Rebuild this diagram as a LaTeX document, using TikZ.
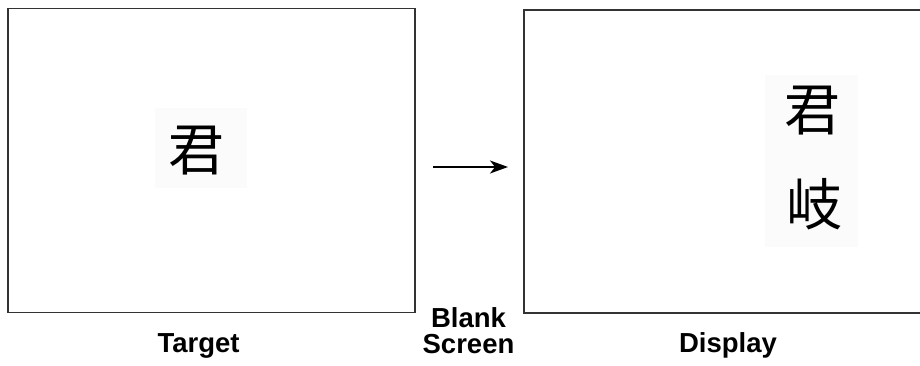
\documentclass[tikz,border=0pt]{standalone}
\usepackage{fontspec}
\setmainfont{Liberation Sans}
\newfontfamily\cjk{Noto Sans CJK JP}
\usetikzlibrary{arrows.meta}
\begin{document}
\begin{tikzpicture}[x=1pt,y=-1pt,
  frame/.style={draw=black!80,line width=1.6pt},
  glyph/.style={font=\cjk\fontsize{56}{60}\selectfont,inner sep=0pt,text=black},
  glyphbg/.style={fill=black!1.5,draw=none},
  label/.style={font=\bfseries\fontsize{27.5}{26}\selectfont,inner sep=0pt,anchor=base,align=center},
  arrowline/.style={line width=1.4pt,-{Stealth[length=18pt,width=13pt,inset=5pt]}}]
\useasboundingbox (0,0) rectangle (920,366);
\fill[white] (0,0) rectangle (920,366);
% background patches behind glyphs
\path[glyphbg] (155,108) rectangle (247,188);
\path[glyphbg] (765,75) rectangle (858,247);
% frames
\node[frame,minimum width=407pt,minimum height=304pt,inner sep=0pt] (target) at (211.5,160.5) {};
\node[frame,minimum width=420pt,minimum height=303pt,inner sep=0pt] (display) at (734,161.5) {};
% glyphs
\node[glyph] (g1) at (196,151) {君};
\node[glyph] (g2) at (812,111) {君};
\node[glyph] (g3) at (814,204) {岐};
% arrow
\coordinate (a1) at (433,167);
\coordinate (a2) at (508,167);
\draw[arrowline] (a1) -- (a2);
% labels
\node[label] (lt) at (198.5,352) {Target};
\node[label] (lb) at (468.5,353) {Blank\\Screen};
\node[label] (ld) at (728,352) {Display};
\end{tikzpicture}
\end{document}
